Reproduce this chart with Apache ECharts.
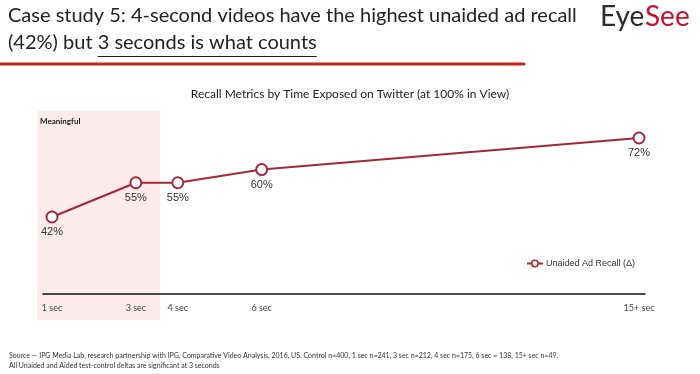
<!DOCTYPE html>
<html>
<head>
<meta charset="utf-8">
<script src="https://cdn.jsdelivr.net/npm/echarts@6/dist/echarts.min.js"></script>
<style>
html,body{margin:0;padding:0;background:#fff;}
#chart{width:700px;height:374px;}
</style>
</head>
<body>
<div id="chart"></div>
<script>
// ---- data ----
const categories = ["1 sec", "3 sec", "4 sec", "6 sec", "15+ sec"];
const exposureSeconds = [1, 3, 4, 6, 15];
const unaidedRecall = [42, 55, 55, 60, 72];
const seriesName = "Unaided Ad Recall (Δ)";
const meaningfulRange = [0.642, 3.572];
const headline1 = "Case study 5: 4-second videos have the highest unaided ad recall";
const headline2a = "(42%) but ";
const headline2b = "3 seconds is what counts";
const chartTitle = "Recall Metrics by Time Exposed on Twitter (at 100% in View)";
const sourceLines = [
  "Source — IPG Media Lab, research partnership with IPG, Comparative Video Analysis, 2016, US. Control n=400, 1 sec n=241, 3 sec n=212, 4 sec n=175, 6 sec = 138, 15+ sec n=49.",
  "All Unaided and Aided test-control deltas are significant at 3 seconds"
];

const lineColor = '#a3283a';
const humanist = 'Lato, "Open Sans", sans-serif';
const chart = echarts.init(document.getElementById('chart'));

const points = exposureSeconds.map((x, i) => [x, unaidedRecall[i]]);
const labelFor = {};
exposureSeconds.forEach((x, i) => { labelFor[x] = categories[i]; });

chart.setOption({
  animation: false,
  grid: { left: 43, right: 55, top: 111, bottom: 80 },
  legend: {
    right: 60, top: 254,
    itemWidth: 16, itemHeight: 8, itemGap: 4,
    data: [seriesName],
    itemStyle: { color: '#fff', borderColor: lineColor, borderWidth: 1.5 },
    lineStyle: { color: lineColor, width: 2 },
    textStyle: { fontSize: 9, color: '#333', fontFamily: '"Liberation Sans", Arial, sans-serif', padding: [0, 0, 0, -2] }
  },
  xAxis: {
    type: 'value',
    min: 0.785, max: 15.143,
    splitLine: { show: false },
    axisLine: { show: true, lineStyle: { color: '#111', width: 1.5 } },
    axisTick: { show: false },
    axisLabel: {
      customValues: exposureSeconds,
      formatter: v => labelFor[v] || '',
      fontSize: 9, color: '#444', fontFamily: humanist, margin: 10
    }
  },
  yAxis: {
    type: 'value', min: 12.76, max: 82.25,
    show: false, splitLine: { show: false }
  },
  series: [{
    name: seriesName,
    type: 'line',
    data: points,
    symbol: 'circle',
    symbolSize: 11,
    lineStyle: { color: lineColor, width: 2 },
    itemStyle: { color: '#fff', borderColor: lineColor, borderWidth: 2 },
    label: {
      show: true, position: 'bottom', distance: 3,
      formatter: p => p.value[1] + '%',
      fontSize: 11, color: '#333', fontFamily: '"Liberation Sans", Arial, sans-serif'
    },
    z: 3
  }]
});

function textWidth(text, font) {
  const c = document.createElement('canvas').getContext('2d');
  c.font = font;
  return c.measureText(text).width;
}

function drawDecor() {
  const x0 = chart.convertToPixel({ xAxisIndex: 0 }, meaningfulRange[0]);
  const x1 = chart.convertToPixel({ xAxisIndex: 0 }, meaningfulRange[1]);
  const yTop = chart.convertToPixel({ yAxisIndex: 0 }, 82.25);
  const hFont = '20px ' + humanist;
  const h2aW = textWidth(headline2a, hFont);
  const h2bW = textWidth(headline2b, hFont);
  const ulX = 8 + h2aW;
  chart.setOption({
    graphic: [
      { type: 'rect', z: -10, shape: { x: x0, y: yTop, width: x1 - x0, height: 320 - yTop },
        style: { fill: '#fdeaea' } },
      { type: 'text', left: x0 + 3, top: yTop + 6,
        style: { text: 'Meaningful', font: 'bold 8px ' + humanist, fill: '#222' } },
      { type: 'text', left: 8, top: 6,
        style: { text: headline1, font: hFont, fill: '#222' } },
      { type: 'text', left: 8, top: 33,
        style: { text: headline2a, font: hFont, fill: '#222' } },
      { type: 'text', left: ulX, top: 33,
        style: { text: headline2b, font: hFont, fill: '#222' } },
      { type: 'line', shape: { x1: ulX, y1: 56.5, x2: ulX + h2bW, y2: 56.5 },
        style: { stroke: '#222', lineWidth: 1 } },
      { type: 'line', shape: { x1: 0, y1: 64, x2: 524, y2: 64 },
        style: { stroke: '#cc1f24', lineWidth: 3, lineCap: 'round' } },
      { type: 'text', left: 600, top: 3,
        style: { text: 'Eye', font: '28px ' + humanist, fill: '#2a2a2a' } },
      { type: 'text', left: 645, top: 3,
        style: { text: 'See', font: '28px ' + humanist, fill: '#c8102e' } },
      { type: 'text', left: 'center', top: 88,
        style: { text: chartTitle, font: '12px ' + humanist, fill: '#222' } },
      { type: 'text', left: 9, top: 352,
        style: { text: sourceLines[0], font: '7px ' + humanist, fill: '#333' } },
      { type: 'text', left: 9, top: 362,
        style: { text: sourceLines[1], font: '7px ' + humanist, fill: '#333' } }
    ]
  });
}
drawDecor();
</script>
</body>
</html>
